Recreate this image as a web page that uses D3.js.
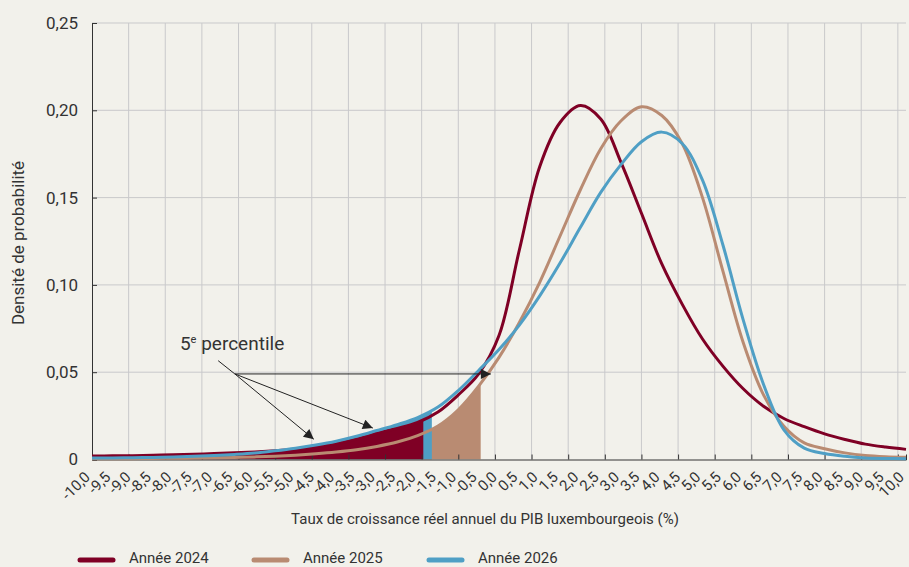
<!DOCTYPE html>
<html>
<head>
  <meta charset="utf-8" />
  <script src="https://d3js.org/d3.v7.min.js"></script>
</head>
<style>
body {
  margin: 0;
  background: #f2f1eb;
  font-family: Roboto, "Open Sans", sans-serif;
}
svg text {
  fill: #333;
}
</style>
<body>
<div id="viz"></div>
<script>
'use strict';

// growth rate (%) grid the densities are read on
const rates = [-10, -9.5, -9, -8.5, -8, -7.5, -7, -6.5, -6, -5.5, -5, -4.5, -4, -3.5, -3, -2.5, -2, -1.5, -1, -0.5,
  0, 0.5, 1, 1.5, 2, 2.5, 3, 3.5, 4, 4.5, 5, 5.5, 6, 6.5, 7, 7.5, 8, 8.5, 9, 9.5, 10];

const dens2024 = [0.0020, 0.0021, 0.0022, 0.0024, 0.0027, 0.0030, 0.0034, 0.0038, 0.0043, 0.0050, 0.0059, 0.0072,
  0.0090, 0.0117, 0.0150, 0.0178, 0.0212, 0.0272, 0.0370, 0.0490, 0.0710, 0.1200, 0.1677, 0.1930, 0.2027, 0.1950,
  0.1700, 0.1410, 0.1120, 0.0890, 0.0690, 0.0535, 0.0405, 0.0305, 0.0235, 0.0188, 0.0147, 0.0115, 0.0088, 0.0071, 0.0058];

const dens2025 = [0.0004, 0.0004, 0.0005, 0.0006, 0.0007, 0.0008, 0.0010, 0.0012, 0.0015, 0.0019, 0.0025, 0.0033,
  0.0043, 0.0056, 0.0075, 0.0100, 0.0137, 0.0192, 0.0285, 0.0420, 0.0585, 0.0785, 0.1015, 0.1280, 0.1545, 0.1780,
  0.1940, 0.2020, 0.1970, 0.1810, 0.1500, 0.1080, 0.0670, 0.0370, 0.0190, 0.0095, 0.0062, 0.0038, 0.0023, 0.0016, 0.0013];

const dens2026 = [0.0008, 0.0009, 0.0010, 0.0012, 0.0015, 0.0018, 0.0023, 0.0029, 0.0037, 0.0050, 0.0065, 0.0083,
  0.0105, 0.0133, 0.0166, 0.0200, 0.0240, 0.0300, 0.0395, 0.0510, 0.0630, 0.0770, 0.0937, 0.1125, 0.1330, 0.1530,
  0.1690, 0.1820, 0.1875, 0.1810, 0.1600, 0.1230, 0.0800, 0.0430, 0.0170, 0.0065, 0.0034, 0.0018, 0.0009, 0.0006, 0.0005];

const years = ['Année 2024', 'Année 2025', 'Année 2026'];
const colors = ['#7f0025', '#b98b72', '#4f9fc5'];
// 5th percentile of each year
const p5 = [-1.86, -0.45, -1.65];

const yTicks = [0, 0.05, 0.10, 0.15, 0.20, 0.25];

const width = 909;
const height = 567;
const margin = {top: 23, right: 3, bottom: 107.5, left: 92};

const svg = d3.select('#viz')
  .append('svg')
    .attr('width', width)
    .attr('height', height);

const x = d3.scaleLinear()
  .domain([-10, 10])
  .range([margin.left, width - margin.right]);

const y = d3.scaleLinear()
  .domain([0, 0.25])
  .range([height - margin.bottom, margin.top]);

const comma = d3.formatLocale({decimal: ',', thousands: ' ', grouping: [3], currency: ['', ' €'], minus: '-'});
const fmtX = comma.format('.1f');
const fmtY = d => d === 0 ? '0' : comma.format('.2f')(d);

// excel category grid, one line every 0.9 pt
const gridX = d3.range(-10 + 0.9, 10, 0.9);

svg.append('g')
  .selectAll('line')
  .data(gridX)
  .join('line')
    .attr('x1', d => x(d)).attr('x2', d => x(d))
    .attr('y1', y(0.25)).attr('y2', y(0))
    .attr('stroke', '#c9c9cb')
    .attr('stroke-width', 1);

svg.append('g')
  .selectAll('line')
  .data(yTicks.slice(1))
  .join('line')
    .attr('x1', x(-10)).attr('x2', x(10))
    .attr('y1', d => y(d)).attr('y2', d => y(d))
    .attr('stroke', '#c9c9cb')
    .attr('stroke-width', 1);

const series = [dens2024, dens2025, dens2026].map((vals, i) => ({
  name: years[i],
  color: colors[i],
  cut: p5[i],
  points: rates.map((r, j) => ({x: r, y: vals[j]})),
}));

const curve = d3.curveCatmullRom.alpha(0.5);

const area = d3.area()
  .x(d => x(d.x))
  .y0(y(0))
  .y1(d => y(d.y))
  .curve(curve);

const line = d3.line()
  .x(d => x(d.x))
  .y(d => y(d.y))
  .curve(curve);

const defs = svg.append('defs');
series.forEach((s, i) => {
  defs.append('clipPath')
    .attr('id', 'clip' + i)
    .append('rect')
      .attr('x', x(-10))
      .attr('y', y(0.25))
      .attr('width', x(s.cut) - x(-10))
      .attr('height', y(0) - y(0.25));
});

// shaded tails below the 5th percentile: 2025 behind, then 2026, then 2024
[1, 2, 0].forEach(i => {
  svg.append('path')
    .datum(series[i].points)
    .attr('clip-path', 'url(#clip' + i + ')')
    .attr('fill', series[i].color)
    .attr('d', area);
});

// axes
const yAxis = svg.append('g')
  .attr('transform', 'translate(' + x(-10) + ',0)')
  .call(d3.axisLeft(y).tickValues(yTicks).tickSize(-5).tickPadding(14).tickFormat(fmtY));
yAxis.selectAll('text')
  .style('font-size', '17px')
  .style('font-family', 'Roboto, sans-serif')
  .attr('fill', '#333');

const xTickAxis = svg.append('g')
  .attr('transform', 'translate(0,' + y(0) + ')')
  .call(d3.axisBottom(x).tickValues(gridX).tickSize(-5).tickFormat(''));

[yAxis, xTickAxis].forEach(g => {
  g.select('.domain').attr('stroke', '#333');
  g.selectAll('.tick line').attr('stroke', '#333');
});

svg.append('g')
  .selectAll('text')
  .data(rates)
  .join('text')
    .attr('transform', d => 'translate(' + (x(d) - 1) + ',478) rotate(-45)')
    .attr('text-anchor', 'end')
    .style('font-size', '15px')
    .text(d => fmtX(d));

// curves
series.forEach(s => {
  svg.append('path')
    .datum(s.points)
    .attr('fill', 'none')
    .attr('stroke', s.color)
    .attr('stroke-width', 3)
    .attr('d', line);
});

// annotation
svg.append('defs').append('marker')
  .attr('id', 'arrow')
  .attr('viewBox', '0 0 10 10')
  .attr('refX', 10).attr('refY', 5)
  .attr('markerWidth', 13).attr('markerHeight', 10)
  .attr('markerUnits', 'userSpaceOnUse')
  .attr('orient', 'auto')
  .append('path')
    .attr('d', 'M0,0L10,5L0,10Z')
    .attr('fill', '#222');

const origin = {x: -6.49, y: 0.049};
const tips = [{x: -0.2, y: 0.049}, {x: -3.1, y: 0.0180}, {x: -4.55, y: 0.0116}];

svg.append('line')
  .attr('x1', x(-6.9)).attr('y1', y(0.0566))
  .attr('x2', x(origin.x)).attr('y2', y(origin.y))
  .attr('stroke', '#222').attr('stroke-width', 1);

svg.append('g')
  .selectAll('line')
  .data(tips)
  .join('line')
    .attr('x1', x(origin.x)).attr('y1', y(origin.y))
    .attr('x2', d => x(d.x)).attr('y2', d => y(d.y))
    .attr('stroke', '#222')
    .attr('stroke-width', 1)
    .attr('marker-end', 'url(#arrow)');

const note = svg.append('text')
  .attr('x', x(-7.84))
  .attr('y', y(0.0627))
  .style('font-size', '19px');
note.append('tspan').text('5');
note.append('tspan').attr('dy', -7).style('font-size', '11px').text('e');
note.append('tspan').attr('dy', 7).text(' percentile');

// axis titles
svg.append('text')
  .attr('x', 485)
  .attr('y', 524)
  .attr('text-anchor', 'middle')
  .style('font-size', '15px')
  .text('Taux de croissance réel annuel du PIB luxembourgeois (%)');

svg.append('text')
  .attr('transform', 'translate(24,' + y(0.124) + ') rotate(-90)')
  .attr('text-anchor', 'middle')
  .style('font-size', '17px')
  .text('Densité de probabilité');

// legend
const legendX = [78, 252, 427];
const legend = svg.append('g')
  .selectAll('g')
  .data(series)
  .join('g')
    .attr('transform', (d, i) => 'translate(' + legendX[i] + ',560)');
legend.append('line')
  .attr('x1', 2).attr('x2', 35)
  .attr('stroke', d => d.color)
  .attr('stroke-width', 5)
  .attr('stroke-linecap', 'round');
legend.append('text')
  .attr('x', 51)
  .attr('y', 3)
  .style('font-size', '15px')
  .text(d => d.name);

</script>
</body>
</html>
